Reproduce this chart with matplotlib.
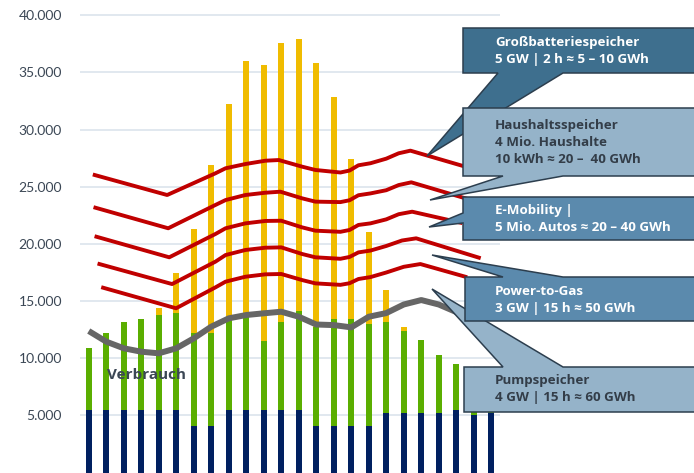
import matplotlib
matplotlib.use("Agg")
import matplotlib.pyplot as plt
from matplotlib.patches import Polygon
from matplotlib.ticker import FuncFormatter

plt.rcParams['font.family'] = ['Lato', 'DejaVu Sans']

# hourly values (0..23)
hours = list(range(24))
grundlast = [5500, 5500, 5500, 5500, 5500, 5500, 4050, 4050, 5500, 5500, 5500, 5500,
             5500, 4050, 4050, 4050, 4050, 5250, 5250, 5250, 5250, 5450, 5050, 5250]
wind = [5370, 6680, 7640, 7900, 8280, 8480, 8180, 8130, 7990, 8300, 6030, 7700,
        8630, 8710, 9350, 9350, 8950, 7950, 7150, 6340, 5030, 4040, 3950, 3250]
solar = [0, 0, 0, 0, 590, 3470, 9070, 14730, 18760, 22240, 24130, 24360,
         23810, 23100, 19430, 14000, 8070, 2770, 360, 0, 0, 0, 0, 0]

verbrauch_h = list(range(22))
verbrauch = [12380, 11450, 10870, 10570, 10430, 10870, 11740, 12760, 13490, 13780, 13930,
             14070, 13630, 12950, 12900, 12700, 13630, 13950, 14700, 15090, 14700, 14040]

# storage levels stacked above consumption (hand drawn curves)
speicher_x = [
    [0.34, 4.48, 7.24, 7.82, 8.95, 10.09, 10.86, 12.19, 12.95, 14.38, 14.9, 15.41, 16.1, 17.0, 17.71, 18.38, 21.52],
    [0.38, 4.54, 7.24, 7.82, 8.95, 10.09, 10.95, 12.19, 12.95, 14.38, 14.9, 15.41, 16.1, 17.0, 17.71, 18.43, 21.52],
    [0.44, 4.60, 7.24, 7.82, 8.95, 10.09, 11.0, 12.19, 12.95, 14.38, 14.9, 15.41, 16.1, 17.0, 17.71, 18.48, 21.24],
    [0.61, 4.76, 7.24, 7.82, 8.95, 10.09, 11.0, 12.19, 12.95, 14.38, 14.9, 15.41, 16.1, 17.0, 17.9, 18.71, 22.29],
    [0.82, 4.99, 7.24, 7.82, 8.95, 10.09, 11.0, 12.19, 12.95, 14.38, 14.9, 15.41, 16.1, 17.0, 18.0, 18.95, 21.52],
]
speicher_y = [
    [26030, 24280, 26180, 26620, 26990, 27280, 27340, 26760, 26470, 26250, 26420, 26880, 27060, 27460, 27930, 28160, 26760],
    [23170, 21370, 23410, 23840, 24280, 24480, 24570, 23990, 23700, 23660, 23820, 24260, 24420, 24700, 25150, 25390, 23990],
    [20630, 18830, 20870, 21370, 21800, 22010, 22030, 21450, 21160, 21060, 21220, 21660, 21800, 22150, 22600, 22820, 21860],
    [18240, 16490, 18450, 19030, 19470, 19670, 19700, 19120, 18830, 18700, 18860, 19260, 19420, 19820, 20300, 20490, 18800],
    [16170, 14370, 16200, 16700, 17130, 17340, 17370, 16840, 16550, 16420, 16560, 16930, 17100, 17500, 18000, 18240, 17130],
]

callout_texts = [
    "Großbatteriespeicher\n5 GW | 2 h ≈ 5 – 10 GWh",
    "Haushaltsspeicher\n4 Mio. Haushalte\n10 kWh ≈ 20 –  40 GWh",
    "E-Mobility |\n5 Mio. Autos ≈ 20 – 40 GWh",
    "Power-to-Gas\n3 GW | 15 h ≈ 50 GWh",
    "Pumpspeicher\n4 GW | 15 h ≈ 60 GWh",
]

W, H = 694, 473
fig = plt.figure(figsize=(W / 100, H / 100), dpi=100)
ax = fig.add_axes([80 / W, 0.001, 420 / W, 0.998])

bw = 0.34
ax.bar(hours, grundlast, width=bw, color='#002060', zorder=2)
ax.bar(hours, wind, width=bw, bottom=grundlast, color='#5aae00', zorder=2)
tops = [g + w for g, w in zip(grundlast, wind)]
ax.bar(hours, solar, width=bw, bottom=tops, color='#f0bc00', zorder=2)

ax.plot(verbrauch_h, verbrauch, color='#666666', lw=4.3, solid_joinstyle='round',
        solid_capstyle='butt', zorder=3)
for xs, ys in zip(speicher_x, speicher_y):
    ax.plot(xs, ys, color='#c00000', lw=2.8, solid_joinstyle='round', zorder=3)

ax.text(1.07, 8530, "Verbrauch", fontsize=11, fontweight='bold', color='#3b4755',
        family=['Open Sans', 'DejaVu Sans'], va='center', ha='left', zorder=4)

ax.set_xlim(-0.5, 23.5)
ax.set_ylim(0, 41300)
ax.set_yticks(range(5000, 40001, 5000))
ax.yaxis.set_major_formatter(FuncFormatter(lambda v, p: f"{int(v):,}".replace(",", ".")))
ax.tick_params(axis='y', length=0, pad=13, labelsize=10, labelcolor='#3b4755')
ax.tick_params(axis='x', length=0, labelbottom=False)
ax.grid(axis='y', color='#dce4ec', lw=1.2, zorder=0)
ax.set_axisbelow(True)
for s in ax.spines.values():
    s.set_visible(False)


def px(pts):
    return [(x / W, 1 - y / H) for x, y in pts]


# callout shapes in figure pixels (box + pointer)
shapes = [
    [(463, 28), (700, 28), (700, 73), (563, 73), (427, 156), (498, 73), (463, 73)],
    [(463, 108), (700, 108), (700, 176), (563, 176), (430, 200), (503, 176), (463, 176)],
    [(463, 197), (700, 197), (700, 240), (463, 240), (463, 223), (429, 227), (463, 213)],
    [(464, 367), (503, 367), (432, 289), (563, 367), (700, 367), (700, 412), (464, 412)],
    [(465, 277), (503, 277), (432, 255), (563, 277), (700, 277), (700, 321), (465, 321)],
]
fills = ['#3e6f8e', '#95b3c9', '#5b8aad', '#95b3c9', '#5b8aad']
text_pos = [(495, 51), (495, 142), (495, 219), (495, 389), (495, 300)]
text_idx = [0, 1, 2, 4, 3]
text_col = ['white', '#333d48', 'white', '#333d48', 'white']

for i, shp in enumerate(shapes):
    poly = Polygon(px(shp), closed=True, transform=fig.transFigure, facecolor=fills[i],
                   edgecolor='#2c3e4e', lw=1.1, zorder=5 + i)
    fig.add_artist(poly)
    tx, ty = text_pos[i]
    fig.text(tx / W, 1 - ty / H, callout_texts[text_idx[i]], fontsize=9.6, fontweight='bold',
             family=['Open Sans', 'DejaVu Sans'], color=text_col[i], va='center', ha='left',
             linespacing=1.4, zorder=5 + i)

fig.savefig("out.png", dpi=100)
